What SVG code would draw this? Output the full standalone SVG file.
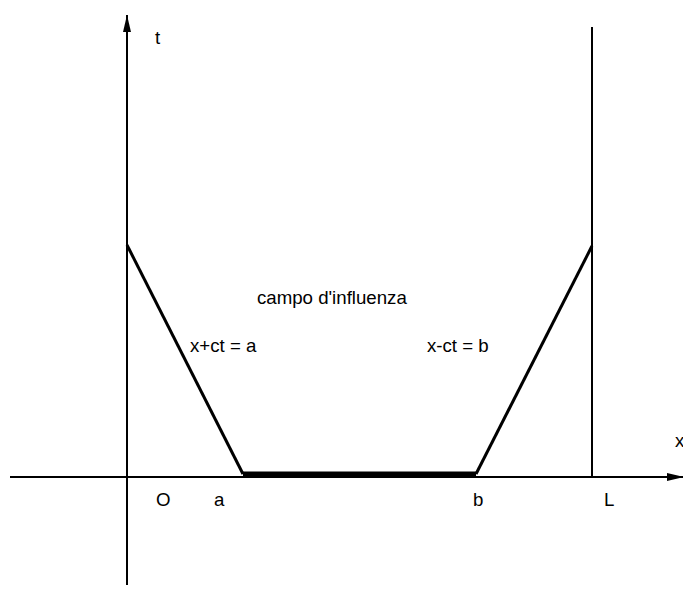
<svg xmlns="http://www.w3.org/2000/svg" width="683" height="589" viewBox="0 0 683 589">
<style>
.ax{stroke:#000;stroke-width:2;fill:none}
.ln{stroke:#000;stroke-width:3;fill:none}
.th{stroke:#000;stroke-width:5;fill:none}
text{font-family:"Liberation Sans",Arial,sans-serif;font-size:18.67px;fill:#000}
</style>
<defs>
<marker id="ar" viewBox="0 0 17 8" refX="17" refY="4" markerWidth="17" markerHeight="8" markerUnits="userSpaceOnUse" orient="auto">
<path d="M0,0 L17,4 L0,8 z" fill="#000"/>
</marker>
</defs>
<rect width="683" height="589" fill="#fff"/>
<g id="connectors">
<line class="ax" x1="127" y1="585" x2="127" y2="15" marker-end="url(#ar)"/>
<line class="ax" x1="10" y1="477" x2="684" y2="477" marker-end="url(#ar)"/>
<line class="ax" x1="592" y1="27" x2="592" y2="477"/>
<line class="ln" x1="127" y1="245" x2="243" y2="474"/>
<line class="th" x1="243" y1="474" x2="476" y2="474"/>
<line class="ln" x1="476" y1="474" x2="592" y2="246"/>
</g>
<g id="labels">
<text x="155" y="44">t</text>
<text x="675" y="447">x</text>
<text x="156" y="506">O</text>
<text x="214" y="506">a</text>
<text x="473" y="506">b</text>
<text x="604" y="506">L</text>
<text x="257" y="304">campo d'influenza</text>
<text x="190" y="352">x+ct = a</text>
<text x="427" y="352">x-ct = b</text>
</g>
</svg>
